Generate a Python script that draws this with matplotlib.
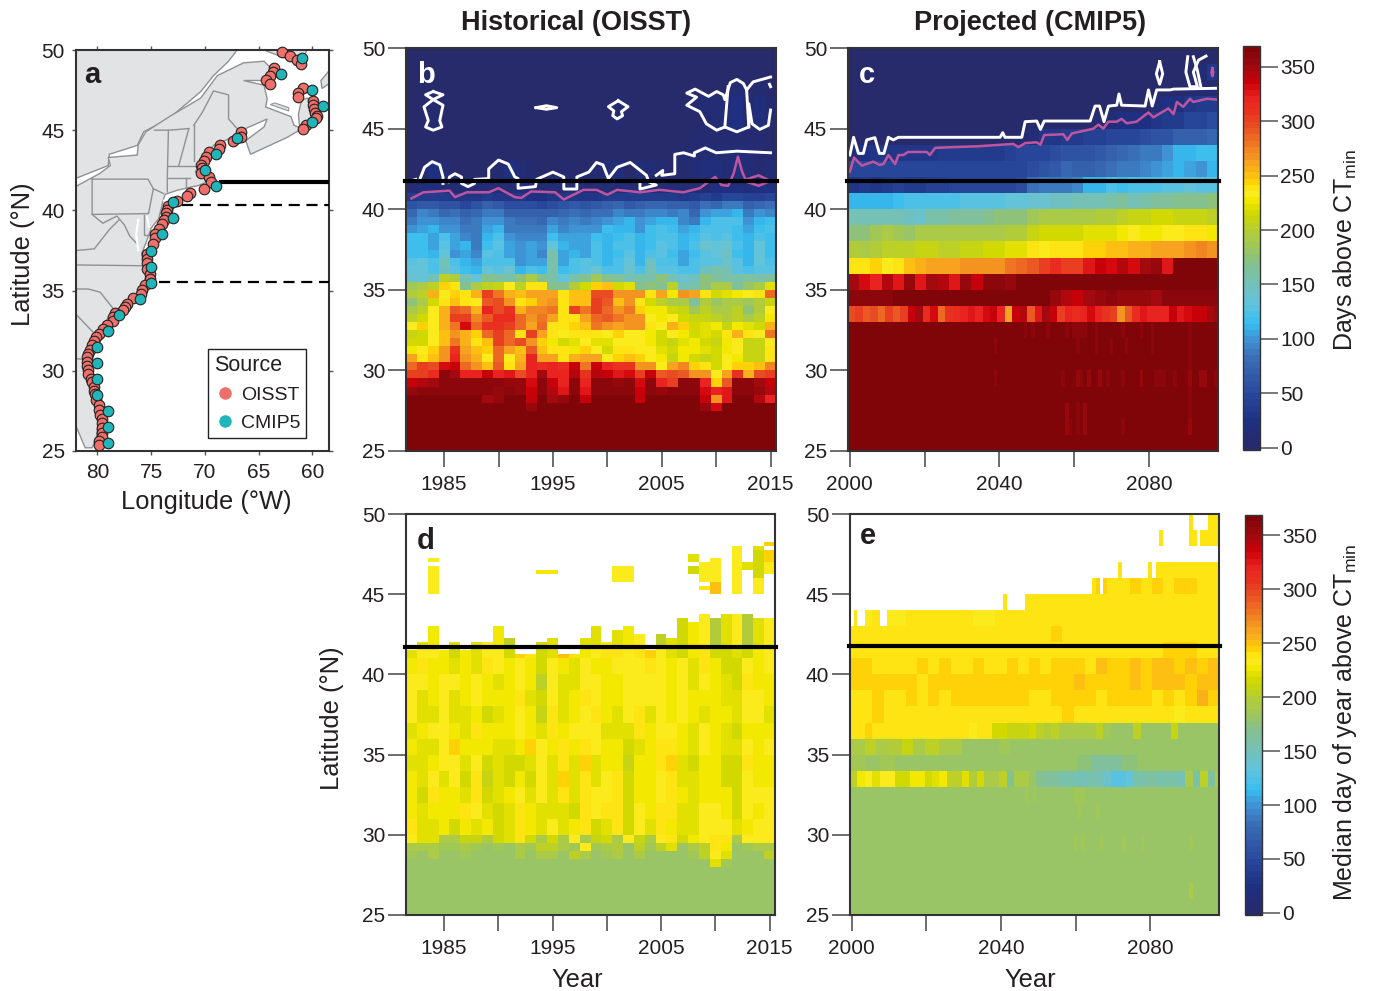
import numpy as np
import matplotlib
matplotlib.use('Agg')
import matplotlib.pyplot as plt
from matplotlib.colors import LinearSegmentedColormap, Normalize
from matplotlib.lines import Line2D

plt.rcParams['font.family'] = ['Liberation Sans', 'DejaVu Sans']
plt.rcParams['mathtext.default'] = 'regular'

# colour scale
cb_vals = [-2, 20, 50, 80, 100, 112, 130, 150, 170, 180, 200, 215, 228, 234, 238, 242, 250, 262, 278, 292, 310, 322, 338, 350, 369]
cb_cols = ['#272a6b', '#1e2f80', '#2a4b9e', '#3a6db5', '#3f96d6', '#35bdf0', '#5fc3df', '#74c1b8', '#86c08c', '#98c567',
           '#b5cd35', '#d0d800', '#f3e800', '#fcea1e', '#fce81c', '#ffdd00', '#fdc210', '#f8a51f', '#ef7d22', '#ea5a24', '#e8321f',
           '#e92420', '#cc0009', '#a50a10', '#7f0509']

# ---- panel a
oisst_lon = [62.85, 62.1, 61.4, 61.1, 63.6, 63.65, 63.9, 64.35, 63.9, 60.9, 61.35, 61.35, 59.9, 59.9, 59.85, 59.75, 59.6, 59.7,
             60.6, 60.9, 66.6, 66.6, 67.35, 68.6, 68.7, 69.65, 69.9, 70.1, 70.35, 70.25, 70.4, 69.6, 69.4, 70.1, 71.35, 71.65,
             72.6, 73.4, 73.5, 73.6, 73.6, 73.85, 74, 74.3, 74.6, 74.6, 74.8, 75.4, 75.4, 75.4, 75.4, 75.1, 75.15, 75.6, 75.85,
             75.95, 76.65, 77.25, 77.4, 77.65, 78.35, 78.55, 78.6, 79.15, 79.45, 79.9, 80.1, 80.35, 80.5, 80.7, 80.85, 80.95,
             80.95, 80.95, 80.85, 80.85, 80.6, 80.5, 80.35, 80.35, 80.2, 80.1, 79.9, 79.9, 79.75, 79.6, 79.6, 79.6, 79.6, 79.6,
             79.9, 79.9]
oisst_lat = [49.85, 49.6, 49.35, 49.15, 48.9, 48.6, 48.35, 48.1, 47.9, 47.65, 47.35, 47.1, 46.85, 46.6, 46.35, 46.1, 45.9, 45.75,
             45.35, 45.1, 44.9, 44.6, 44.35, 44.1, 43.85, 43.65, 43.35, 43.1, 42.85, 42.65, 42.35, 42.1, 41.8, 41.35, 41.1, 40.9,
             40.6, 40.3, 40.05, 39.85, 39.6, 39.4, 39.15, 38.85, 38.55, 38.25, 37.9, 37.3, 37, 36.7, 36.35, 36.05, 35.7, 35.35,
             35.05, 34.8, 34.55, 34.15, 34, 33.8, 33.6, 33.35, 33.1, 32.85, 32.6, 32.3, 32.1, 31.85, 31.6, 31.3, 31.05, 30.85,
             30.55, 30.3, 30.05, 29.8, 29.5, 29.3, 29, 28.75, 28.55, 28.2, 27.85, 27.55, 27.25, 27, 26.75, 26.45, 26.15, 25.9,
             25.6, 25.35]
cmip_lon = [61, 62.95, 60, 59, 60, 67, 69, 70, 69, 73, 73, 74, 75, 75, 75, 76, 78, 79, 80, 80, 80, 80, 79, 79, 79]
cmip_lat = [49.5, 48.5, 47.5, 46.5, 45.5, 44.5, 43.5, 42.5, 41.5, 40.5, 39.5, 38.5, 37.5, 36.5, 35.5, 34.5, 33.5, 32.5, 31.5,
            30.5, 29.5, 28.5, 27.5, 26.5, 25.5]

land_north = [(82, 50), (67, 50), (67.8, 49.3), (69.2, 48.4), (70.4, 47.4), (73.4, 45.7), (75.7, 44.9), (76.3, 44.05), (78.9, 43.5),
              (79, 42.8), (82, 42)]
land_south = [(82, 41.5), (79.8, 42.3), (78.8, 42.8), (79, 43.3), (76.3, 43.45), (76.2, 44.1), (75.5, 44.9), (73.3, 45.85), (70.4, 47),
              (68.85, 48.4), (66.4, 49.2), (64.5, 49.3), (63.9, 48.9), (63.25, 48.4), (64.2, 48.1), (66.4, 48.1), (64.5, 47.8),
              (64.2, 46.95), (64.35, 46.45), (62, 45.85), (61.7, 45.3), (60.95, 45.1), (62.35, 44.55), (65.75, 43.5), (66.2, 44.35),
              (64.5, 45.2), (64.2, 45.7), (66.4, 45.05), (67.3, 44.6), (69.2, 44.05), (70.4, 42.9), (70.9, 42.4), (70.1, 42.05),
              (69.9, 41.75), (70.6, 41.55), (71.35, 41.45), (72.6, 41.25), (73.7, 41), (73.9, 40.6), (74, 40.3), (74.3, 39.5),
              (75, 38.9), (75.3, 38.3), (75.9, 37.3), (75.7, 36.7), (75.5, 36.2), (75.6, 35.3), (76.65, 34.6), (77.9, 33.9),
              (78.55, 33.8), (79.3, 33), (80.05, 32.2), (81, 31.1), (81.2, 30.4), (81, 29.8), (80.6, 28.9), (80.3, 27.9),
              (79.95, 26.9), (80.1, 25.8), (80.5, 25.2), (81.15, 25.2), (81.9, 26.4), (82, 26.5)]
cape_breton = [(61.2, 45.3), (61.3, 46), (61, 46.9), (60.4, 47), (60.2, 46.2), (59.9, 45.9), (60.8, 45.4)]
newfoundland = [(59.2, 48.1), (58.45, 48.7), (58.45, 47.9), (59.1, 47.6)]
north_shore = [(64.5, 50), (62.95, 49.6), (61.1, 49.15), (60.5, 50)]
pei = [(63.9, 46.6), (62.2, 46.2), (62.2, 46.4), (63.5, 46.7)]
long_island = [(73.9, 40.6), (72, 41), (71.9, 41.05), (73.4, 40.85)]
border_lines = [
    [(80.5, 41.95), (75.3, 41.95), (74.8, 41.35), (75.25, 39.8), (80.5, 39.75), (80.5, 41.95)],
    [(74.8, 41.35), (73.85, 41.05)],
    [(73.5, 41.15), (73.5, 42.05), (73.4, 45)],
    [(74.7, 45), (73.4, 45), (71.5, 45.1)],
    [(71.5, 45.1), (72.45, 42.75)],
    [(71.05, 45.3), (71.05, 43.1)],
    [(73.5, 42.05), (71.4, 42.05)],
    [(73.4, 42.75), (70.8, 42.75)],
    [(71.8, 42.05), (71.8, 41.4)],
    [(71.05, 45.3), (70.25, 46.1), (69.2, 47.45), (67.8, 47.2), (67.8, 45.7), (67, 45.1)],
    [(80.5, 39.75), (79.5, 39.2), (78.2, 39.65), (77.5, 39.1), (77, 38.4), (76.3, 37.9)],
    [(82, 37.5), (80.3, 37.6), (78.9, 38.8), (78, 39.4)],
    [(75.7, 39.7), (75.7, 38.45), (75.05, 38.45)],
    [(82, 36.6), (75.9, 36.55)],
    [(82, 35.1), (80.85, 35.1), (79.75, 34.9), (78.5, 33.85)],
    [(81.9, 33.45), (80.4, 32.4)],
    [(81.85, 30.75), (81.1, 30.7)],
]
bay_lines = [
    [(76.2, 39.4), (76.4, 38.5), (76.2, 37.5)],
    [(75.4, 39.6), (75.2, 39)],
]

# ---- panel b (OISST, days above CTmin), south to north
hist_years = list(range(1982, 2016))
b_edges = [25, 27.5, 28, 28.5, 29, 29.5, 30, 30.5, 31, 31.5, 32, 32.5, 33, 33.5, 34, 34.5, 35, 35.5, 36, 36.5, 37, 37.5, 38, 38.5, 39,
           39.5, 40, 40.5, 41, 41.5, 42, 43, 44, 45, 46, 47, 48, 50]
b_rows = [
    [365] * 34,
    [365, 365, 365, 365, 365, 365, 365, 365, 365, 365, 365, 352, 365, 365, 365, 365, 365, 365, 365, 365, 365, 365, 365, 365, 365, 365, 365, 355, 330, 365, 365, 365, 365, 365],
    [365, 365, 365, 365, 365, 365, 365, 350, 355, 365, 365, 340, 365, 350, 355, 365, 335, 365, 365, 365, 365, 340, 365, 365, 365, 365, 365, 338, 270, 325, 365, 365, 345, 320],
    [355, 360, 360, 362, 362, 362, 362, 358, 355, 360, 355, 335, 360, 345, 325, 362, 325, 360, 360, 358, 362, 340, 358, 355, 360, 360, 360, 330, 322, 325, 362, 360, 355, 345],
    [335, 345, 350, 362, 360, 360, 360, 358, 358, 355, 352, 330, 360, 335, 322, 362, 318, 360, 360, 352, 360, 330, 358, 322, 300, 358, 358, 322, 245, 290, 362, 358, 348, 335],
    [300, 305, 312, 362, 350, 322, 320, 340, 320, 325, 295, 320, 350, 322, 320, 345, 310, 345, 340, 325, 330, 300, 335, 290, 295, 290, 265, 265, 235, 262, 310, 258, 295, 305],
    [285, 305, 295, 330, 335, 285, 270, 248, 290, 238, 262, 320, 315, 318, 315, 335, 280, 335, 320, 310, 310, 270, 270, 235, 262, 275, 245, 240, 215, 235, 245, 245, 248, 275],
    [262, 240, 250, 270, 320, 265, 255, 235, 285, 235, 255, 320, 262, 262, 240, 258, 262, 262, 230, 245, 250, 245, 232, 225, 210, 225, 215, 210, 215, 235, 225, 208, 212, 240],
    [225, 235, 245, 265, 310, 260, 250, 245, 285, 262, 250, 290, 252, 240, 238, 225, 245, 232, 215, 238, 238, 232, 230, 222, 215, 225, 225, 220, 218, 225, 232, 208, 210, 238],
    [215, 218, 235, 250, 280, 255, 240, 250, 300, 285, 295, 270, 245, 225, 215, 222, 235, 222, 222, 235, 235, 230, 228, 215, 210, 220, 225, 215, 212, 225, 230, 208, 208, 235],
    [210, 215, 230, 250, 268, 258, 242, 285, 305, 285, 238, 300, 262, 240, 235, 238, 240, 238, 235, 242, 235, 235, 228, 215, 235, 225, 215, 220, 218, 240, 255, 240, 235, 278],
    [235, 245, 235, 255, 280, 330, 285, 310, 310, 305, 285, 262, 285, 238, 240, 245, 250, 278, 270, 260, 265, 265, 240, 232, 255, 245, 215, 222, 225, 212, 225, 220, 215, 255],
    [205, 218, 230, 255, 300, 305, 275, 290, 315, 315, 285, 270, 280, 262, 238, 240, 262, 285, 290, 280, 270, 270, 230, 225, 230, 215, 208, 210, 205, 200, 205, 195, 205, 225],
    [195, 205, 235, 255, 290, 285, 255, 320, 295, 310, 255, 275, 275, 280, 240, 305, 280, 305, 285, 270, 280, 245, 225, 225, 215, 210, 185, 205, 195, 190, 205, 175, 200, 235],
    [175, 195, 215, 240, 250, 238, 235, 290, 295, 270, 240, 242, 262, 268, 240, 250, 248, 300, 290, 250, 270, 240, 215, 205, 195, 195, 165, 200, 180, 190, 195, 185, 200, 210],
    [200, 205, 255, 230, 245, 240, 258, 305, 280, 258, 248, 262, 262, 262, 240, 250, 248, 295, 295, 270, 270, 265, 240, 262, 225, 270, 260, 238, 215, 222, 228, 232, 240, 285],
    [185, 190, 205, 242, 238, 170, 190, 205, 212, 235, 205, 240, 240, 170, 170, 200, 215, 245, 250, 215, 220, 170, 175, 170, 205, 150, 160, 175, 190, 190, 165, 180, 195, 220],
    [140, 135, 150, 205, 200, 150, 135, 170, 165, 160, 175, 190, 170, 160, 135, 160, 170, 185, 170, 165, 150, 155, 160, 175, 150, 140, 145, 175, 165, 160, 160, 165, 160, 165],
    [135, 135, 125, 145, 130, 115, 110, 135, 130, 140, 110, 120, 115, 160, 115, 120, 130, 140, 120, 125, 140, 125, 150, 130, 130, 125, 125, 145, 155, 150, 130, 125, 130, 130],
    [130, 135, 125, 150, 125, 110, 108, 125, 125, 125, 100, 105, 108, 160, 105, 120, 130, 125, 110, 125, 135, 110, 145, 125, 125, 108, 125, 130, 130, 140, 130, 110, 135, 125],
    [118, 118, 110, 132, 98, 105, 92, 126, 122, 108, 98, 103, 92, 155, 108, 110, 108, 122, 110, 118, 126, 110, 122, 126, 118, 108, 118, 126, 135, 145, 118, 112, 135, 118],
    [118, 116, 108, 126, 108, 113, 88, 118, 126, 108, 98, 103, 98, 133, 113, 108, 108, 123, 113, 123, 123, 113, 118, 128, 120, 113, 120, 138, 133, 138, 120, 113, 133, 118],
    [115, 115, 105, 120, 105, 95, 90, 110, 122, 100, 95, 95, 95, 115, 105, 105, 105, 118, 110, 115, 120, 110, 118, 125, 120, 110, 118, 128, 122, 128, 118, 110, 120, 115],
    [100, 105, 110, 100, 100, 85, 90, 105, 110, 90, 85, 90, 85, 105, 95, 100, 102, 100, 115, 110, 110, 102, 115, 120, 115, 105, 110, 122, 120, 125, 115, 105, 115, 120],
    [90, 100, 100, 95, 95, 80, 85, 100, 100, 85, 80, 80, 75, 95, 90, 95, 90, 95, 100, 105, 110, 100, 105, 110, 110, 95, 90, 110, 120, 122, 122, 102, 110, 115],
    [78, 93, 88, 78, 83, 73, 78, 88, 88, 73, 73, 68, 68, 73, 78, 80, 78, 83, 83, 93, 88, 86, 93, 93, 88, 93, 78, 98, 103, 108, 113, 88, 98, 93],
    [60, 65, 65, 60, 60, 50, 60, 70, 65, 55, 55, 55, 50, 55, 60, 65, 60, 65, 70, 75, 65, 70, 75, 75, 70, 70, 65, 80, 75, 85, 90, 70, 75, 80],
    [35, 35, 35, 35, 30, 30, 30, 35, 30, 30, 30, 25, 25, 30, 30, 30, 30, 30, 35, 35, 35, 35, 35, 35, 35, 30, 35, 40, 35, 50, 50, 40, 40, 45],
    [15, 18, 18, 15, 15, 15, 15, 15, 15, 12, 12, 12, 12, 12, 12, 15, 15, 15, 15, 15, 18, 15, 15, 15, 15, 15, 15, 15, 25, 25, 25, 20, 25, 25],
    [8, 8, 22, 12, 6, 10, 6, 8, 12, 18, 14, 6, 6, 10, 12, 8, 8, 8, 10, 16, 8, 18, 14, 8, 8, 10, 8, 12, 15, 10, 14, 10, 12, 12],
    [1, 2, 22, 14, 2, 2, 2, 2, 8, 22, 14, 4, 2, 3, 4, 2, 2, 5, 10, 18, 3, 16, 12, 4, 2, 6, 10, 16, 16, 14, 16, 12, 8, 14],
    [1, 1, 2, 2, 1, 1, 1, 1, 2, 2, 2, 1, 1, 1, 1, 1, 1, 1, 1, 2, 1, 2, 1, 1, 2, 5, 8, 12, 15, 12, 14, 12, 8, 6],
    [1, 1, 1, 1, 1, 1, 1, 1, 1, 1, 1, 1, 1, 1, 1, 1, 1, 1, 1, 1, 1, 1, 1, 1, 1, 2, 4, 8, 8, 5, 4, 4, 4, 3],
    [1, 1, 4, 1, 1, 1, 1, 1, 1, 1, 1, 1, 1, 1, 1, 1, 1, 1, 1, 6, 1, 1, 1, 1, 1, 1, 3, 6, 12, 16, 25, 3, 20, 8],
    [1, 1, 4, 1, 1, 1, 1, 1, 1, 1, 1, 1, 3, 1, 1, 1, 1, 1, 1, 8, 1, 1, 1, 1, 1, 1, 8, 14, 14, 14, 25, 4, 20, 5],
    [1, 1, 1, 1, 1, 1, 1, 1, 1, 1, 1, 1, 1, 1, 1, 1, 1, 1, 1, 1, 1, 1, 1, 1, 1, 1, 2, 1, 1, 2, 14, 2, 8, 2],
    [1] * 34,
]
b_white = [
    [(1981.9, 41.75), (1982.4, 41.85)],
    [(1982.8, 41.9), (1983.2, 42.6), (1983.9, 42.95), (1984.6, 42.75), (1984.9, 42), (1984.9, 41.6)],
    [(1985.4, 41.7), (1985.5, 42), (1986, 42.2), (1986.6, 42), (1986.6, 41.6), (1987.2, 41.4), (1987.8, 41.6), (1987.8, 41.85), (1989.1, 41.9),
     (1989.1, 42.5), (1990, 43.05), (1990.9, 42.8), (1991.5, 42), (1991.8, 41.9), (1991.8, 41.3), (1993.4, 41.4), (1993.5, 41.85), (1995, 42.3),
     (1996, 42), (1996, 41.25), (1997.2, 41.25), (1997.2, 42), (1998.3, 42.3), (1999, 42.9), (1999.6, 42.75), (2000.1, 41.9), (2000.9, 42.6),
     (2002.1, 42.9), (2003.6, 42.1), (2003.8, 41.7), (2004.5, 41.5), (2003, 41.25), (2003, 41.6)],
    [(2004.5, 42.1), (2005.1, 42.4), (2005, 42.1), (2006.2, 42.2), (2006.2, 43.4), (2007, 43.5), (2008, 43.3), (2008, 43.5), (2009, 43.8),
     (2010, 43.5), (2011.9, 43.6), (2015, 43.5)],
    [(1984, 47.3), (1984.9, 47.1), (1984, 46.8), (1984.9, 46.45), (1984.6, 45.5), (1984.8, 45.1), (1984, 44.9), (1983.3, 45.1), (1983.55, 45.5),
     (1983.15, 46.35), (1984, 46.8), (1983.3, 47.1), (1984, 47.3)],
    [(1993.45, 46.3), (1994.4, 46.42), (1995.35, 46.3), (1994.4, 46.2), (1993.45, 46.3)],
    [(2001, 46.73), (2001.9, 46.36), (2001.3, 46.05), (2001.4, 45.8), (2000.9, 45.6), (2000.5, 45.8), (2000.6, 46.1), (2000.1, 46.36), (2001, 46.73)],
    [(2015, 48.2), (2013.4, 47.9), (2012.8, 47.4), (2012.5, 47.8), (2011.9, 48.05), (2011.3, 47.85), (2010.8, 46.8), (2010.65, 47.1), (2010.05, 47.3),
     (2009.3, 47), (2008.07, 47.45), (2007.3, 47.2), (2008.2, 46.95), (2007.3, 46.45), (2008.5, 46.05), (2009.1, 45.3), (2010.05, 44.9),
     (2010.8, 45.1), (2011.9, 44.8), (2013, 45.1), (2013, 46.55), (2013.3, 45.3), (2014, 44.95), (2014.8, 45.2), (2015, 46.15)],
    [(2011.1, 47.6), (2010.8, 45.1)],
    [(2012.8, 47.4), (2013, 45.1)],
    [(2014.9, 47.75), (2015, 47.6)],
]
b_pink = [
    [(1982, 40.67), (1983.1, 41.05), (1985.5, 41.15), (1986, 40.75), (1987.1, 41.05), (1989.1, 41.05), (1990, 41.3), (1991.5, 40.75), (1992.1, 40.7),
     (1993, 41.1), (1995.2, 41.05), (1996, 40.6), (1997.8, 41.2), (1999, 41.2), (2000, 40.9), (2000.9, 41.2), (2003, 41.05), (2004.8, 41.2),
     (2007, 41.05), (2008.5, 41.3), (2009.9, 42), (2010.5, 41.5), (2011.1, 41.45), (2011.6, 42.2), (2012, 43.25), (2012.4, 42.3), (2012.8, 41.7),
     (2013.9, 41.45), (2015, 41.75), (2013.9, 42.1), (2012.8, 41.85)],
]

# ---- panel d (OISST, median day), body rows south to north
d_edges = [25, 28, 28.5, 29, 29.5, 30, 31, 32, 33, 34, 35, 36, 37, 38, 39, 40, 41, 41.75]
d_rows = [
    [180] * 34,
    [180, 180, 180, 180, 180, 180, 180, 180, 180, 180, 180, 180, 180, 180, 180, 180, 180, 180, 180, 180, 180, 180, 180, 180, 180, 180, 180, 180, 222, 186, 180, 180, 180, 180],
    [185, 180, 190, 182, 182, 185, 182, 182, 182, 182, 195, 180, 195, 195, 180, 205, 190, 182, 185, 195, 182, 190, 182, 182, 182, 182, 188, 205, 232, 222, 182, 182, 182, 205],
    [195, 195, 195, 185, 185, 190, 188, 182, 185, 182, 190, 185, 205, 205, 190, 185, 232, 185, 195, 200, 182, 205, 185, 205, 220, 182, 190, 205, 238, 228, 182, 185, 190, 195],
    [235, 222, 220, 190, 190, 212, 208, 200, 215, 220, 238, 215, 190, 215, 190, 235, 195, 208, 215, 190, 230, 210, 190, 235, 240, 215, 225, 232, 238, 240, 195, 230, 232, 232],
    [236, 224, 222, 226, 215, 228, 222, 226, 218, 222, 238, 226, 224, 232, 220, 228, 236, 215, 222, 238, 218, 232, 222, 236, 228, 220, 222, 230, 232, 232, 220, 228, 232, 230],
    [228, 220, 228, 228, 225, 236, 232, 224, 216, 220, 236, 228, 222, 222, 224, 218, 238, 230, 236, 240, 216, 230, 228, 238, 238, 222, 224, 230, 232, 226, 218, 232, 226, 232],
    [226, 218, 240, 226, 226, 224, 240, 214, 220, 228, 232, 222, 232, 220, 240, 222, 240, 232, 232, 240, 216, 226, 226, 232, 240, 226, 222, 228, 228, 228, 216, 232, 232, 232],
    [226, 222, 232, 224, 232, 218, 240, 210, 222, 214, 228, 218, 230, 222, 242, 222, 236, 220, 232, 236, 216, 228, 228, 232, 240, 224, 222, 228, 226, 218, 218, 232, 226, 228],
    [224, 222, 228, 230, 234, 222, 232, 216, 224, 218, 216, 222, 232, 220, 238, 220, 242, 222, 226, 228, 208, 226, 226, 236, 242, 222, 218, 226, 228, 216, 218, 236, 226, 226],
    [226, 220, 224, 232, 242, 226, 228, 226, 222, 222, 228, 244, 234, 228, 238, 226, 238, 230, 228, 226, 218, 224, 226, 236, 240, 226, 222, 232, 228, 222, 220, 230, 226, 230],
    [224, 226, 232, 232, 226, 224, 236, 226, 226, 226, 232, 228, 222, 236, 228, 230, 232, 232, 224, 224, 220, 238, 226, 232, 230, 226, 224, 230, 228, 222, 218, 226, 226, 226],
    [232, 224, 222, 234, 224, 224, 226, 218, 224, 226, 232, 226, 212, 236, 222, 228, 232, 236, 226, 222, 232, 238, 222, 232, 226, 232, 226, 222, 226, 226, 220, 232, 232, 222],
    [232, 224, 228, 232, 224, 226, 234, 226, 226, 226, 236, 224, 214, 232, 222, 226, 236, 234, 226, 226, 230, 232, 232, 230, 226, 232, 226, 226, 226, 222, 222, 232, 232, 226],
    [230, 232, 228, 232, 232, 226, 232, 226, 224, 226, 232, 226, 202, 234, 222, 224, 232, 230, 226, 228, 230, 232, 232, 234, 228, 234, 222, 232, 226, 220, 218, 236, 226, 226],
    [226, 236, 226, 228, 222, 228, 224, 236, 232, 226, 232, 228, 216, 234, 228, 224, 232, 226, 226, 232, 230, 232, 236, 232, 226, 234, 224, 236, 228, 218, 218, 232, 226, 232],
    [220, 234, 232, 226, 218, 228, 222, 234, 230, 218, 244, 240, 216, 224, 248, 226, 226, 230, 240, 236, 232, 236, 244, 234, 224, 218, 226, 236, 218, 218, 222, 218, 226, 234],
]
# top of the coloured column just north of the black line, and its value
d_cap_top = [41.4, 41.9, 42.95, 41.4, 42.1, 41.4, 41.9, 41.9, 42.95, 42.2, 41.2, 41.2, 41.9, 42.2, 41.2, 41.15, 42.2, 42.95, 41.9, 42.7, 42.9,
             42.45, 41.45, 42.45, 42.2, 43.45, 43.2, 43.7, 43.45, 43.7, 43.7, 43.7, 43.45, 43.45]
d_cap_val = [220, 222, 228, 220, 220, 220, 222, 232, 228, 205, 240, 240, 218, 220, 245, 226, 222, 220, 240, 222, 228, 232, 240, 205, 222, 218,
             226, 235, 198, 222, 232, 200, 222, 232]
# isolated cells further north: year, south lat, north lat, value
d_cell_year = [1984, 1984, 1994, 1995, 2001, 2002, 2008, 2008, 2009, 2009, 2010, 2010, 2010, 2012, 2012, 2012, 2013, 2014, 2014, 2014, 2015, 2015, 2015]
d_cell_s = [46.9, 44.95, 46.2, 46.2, 45.7, 45.7, 47, 46.2, 45.7, 45.2, 45.7, 45, 47, 47.7, 47, 45, 46.5, 47.7, 46, 45, 47.95, 47, 46.2]
d_cell_n = [47.2, 46.75, 46.5, 46.5, 46.75, 46.75, 47.5, 46.75, 47, 45.5, 47.2, 45.7, 47.2, 48, 47.7, 47, 47, 48, 47.7, 46, 48.25, 47.75, 47]
d_cell_val = [232, 232, 225, 225, 235, 235, 220, 218, 235, 238, 235, 250, 235, 235, 230, 235, 222, 222, 218, 230, 242, 245, 235]

# ---- panels c and e (CMIP5, one row per degree, south to north). Rows may hold fewer values than years.
proj_years = list(range(2000, 2099))
c_rows = [
    [365], [365], [365], [365], [365], [365], [365], [365],
    [295, 300, 290, 295, 285, 300, 292, 300, 335, 350, 315, 330, 285, 310, 315, 320, 325, 320, 330, 335, 320, 262, 340, 345, 290, 325, 350, 340, 300, 320,
     315, 320, 330, 318, 310, 302, 270, 290, 315, 325, 318, 322, 320, 335, 325, 330, 335, 340, 350, 355],
    [360, 358, 362, 358, 365, 365, 365, 365, 365, 365, 365, 365, 365, 365, 365, 365, 365, 365, 355, 345, 335, 350, 355, 358, 355, 352, 355, 350, 358, 360, 362, 358, 362],
    [350, 330, 322, 345, 325, 352, 325, 350, 345, 325, 352, 340, 360, 358, 355, 365, 365, 365, 365, 365, 365, 365, 365, 365, 365, 365, 365, 365, 365, 365, 365, 365, 365],
    [240, 240, 242, 235, 240, 250, 258, 262, 262, 262, 265, 270, 265, 270, 280, 285, 290, 300, 315, 305, 300, 325, 335, 330, 345, 330, 350, 355, 325, 365, 365, 365, 365],
    [200, 195, 200, 205, 205, 205, 210, 212, 205, 205, 210, 210, 215, 215, 220, 222, 238, 232, 238, 240, 240, 245, 245, 250, 252, 258, 258, 260, 262, 262, 270, 275, 265],
    [175, 175, 185, 190, 185, 180, 190, 190, 195, 190, 190, 195, 190, 195, 200, 200, 210, 215, 215, 215, 215, 222, 222, 222, 228, 230, 225, 225, 232, 235, 240, 240, 228],
    [150, 150, 150, 150, 150, 145, 140, 160, 160, 165, 165, 165, 170, 175, 175, 175, 185, 190, 190, 190, 195, 195, 200, 200, 205, 210, 210, 215, 215, 210, 210, 210, 205],
    [112, 112, 112, 112, 118, 125, 125, 125, 125, 125, 128, 128, 130, 130, 135, 135, 140, 140, 145, 145, 150, 150, 150, 160, 165, 150, 160, 165, 165, 170, 170, 170, 175],
    [30, 35, 30, 35, 40, 35, 35, 40, 40, 45, 45, 45, 45, 45, 50, 55, 80, 85, 85, 90, 95, 110, 112, 120, 115, 120, 125, 125, 130, 128, 135, 130, 130],
    [45, 45, 45, 50, 50, 50, 50, 50, 50, 50, 50, 50, 50, 50, 50, 50, 55, 60, 65, 75, 70, 70, 75, 80, 85, 90, 95, 100, 105, 112, 105, 100, 110],
    [15, 22, 30, 30, 32, 32, 32, 32, 35, 35, 35, 36, 36, 38, 40, 45, 50, 50, 55, 58, 60, 60, 65, 70, 75, 80, 85, 90, 100, 112, 112, 115, 115],
    [1, 1, 1, 1, 1, 1, 1, 1, 1, 1, 1, 1, 1, 1, 1, 8, 10, 30, 30, 35, 35, 40, 42, 45, 45, 50, 55, 60, 60, 70, 70, 72, 75],
    [1, 1, 1, 1, 1, 1, 1, 1, 1, 1, 1, 1, 1, 1, 1, 1, 1, 1, 1, 1, 1, 1, 15, 15, 25, 25, 25, 28, 35, 35, 45, 48, 55],
    [1, 1, 1, 1, 1, 1, 1, 1, 1, 1, 1, 1, 1, 1, 1, 1, 1, 1, 1, 1, 1, 1, 1, 1, 1, 1, 1, 15, 25, 25, 30, 35, 35],
    [1, 1, 1, 1, 1, 1, 1, 1, 1, 1, 1, 1, 1, 1, 1, 1, 1, 1, 1, 1, 1, 1, 1, 1, 1, 1, 1, 1, 1, 1, 5, 5, 5],
    [1, 1, 1, 1, 1, 1, 1, 1, 1, 1, 1, 1, 1, 1, 1, 1, 1, 1, 1, 1, 1, 1, 1, 1, 1, 1, 1, 1, 1, 1, 1, 10, 30],
    [1],
]
c_dark_year = [2047, 2049, 2053, 2058, 2060, 2061, 2062, 2063, 2066, 2073, 2078, 2081, 2091, 2039, 2061, 2066, 2070, 2074, 2081, 2091, 2091, 2039, 2057, 2061, 2062,
               2064, 2067, 2069, 2073, 2078, 2082, 2083, 2084, 2087, 2091, 2094, 2095, 2098, 2091, 2058, 2061, 2063, 2091, 2058, 2059, 2061, 2063, 2073, 2091]
c_dark_lat = [32, 32, 32, 32, 32, 32, 32, 32, 32, 32, 32, 32, 32, 31, 31, 31, 31, 31, 31, 31, 30, 29, 29, 29, 29, 29, 29, 29, 29, 29, 29, 29, 29, 29, 29, 29, 29, 29, 28,
               27, 27, 27, 27, 26, 26, 26, 26, 26, 26]
c_dark_val = [362, 362, 362, 358, 360, 358, 358, 358, 360, 360, 360, 358, 358, 358, 358, 358, 360, 360, 358, 362, 362, 358, 362, 356, 358, 356, 352, 358, 358, 356, 358, 358,
              358, 360, 352, 356, 356, 358, 362, 356, 360, 356, 362, 356, 358, 360, 356, 358, 356]
c_white = [
    [(2000, 43.36), (2001, 44.46), (2002.3, 43.46), (2003.6, 43.46), (2004.5, 44.3), (2006.7, 44.44), (2007.9, 43.46), (2009.1, 43.46), (2010.3, 44.46), (2011.6, 44.3),
     (2013, 44.46), (2040.2, 44.46), (2040.9, 44.75), (2041.5, 44.46), (2046, 44.46), (2046.9, 45.43), (2050, 45.47), (2051, 44.95), (2052, 45.47), (2064.3, 45.47),
     (2065.6, 46.4), (2066.8, 46.4), (2068, 45.43), (2069.2, 46.4), (2071.4, 46.45), (2072, 47.15), (2072.7, 46.45), (2079, 46.4), (2079.9, 47.4), (2080.9, 46.4),
     (2082.1, 47.4), (2085.7, 47.4), (2086.6, 47.45), (2098, 47.5)],
    [(2082.9, 49.15), (2083.7, 48.4), (2082.9, 47.75), (2082, 48.4), (2082.9, 49.15)],
    [(2090.4, 49.46), (2089.9, 48.5), (2091, 47.6), (2093, 47.6), (2091.9, 48.5), (2093.3, 49.25), (2095.3, 49.5)],
    [(2091.9, 49.46), (2093, 48.6), (2093.9, 47.6)],
]
c_pink = [
    [(2000, 42.33), (2001.1, 43.2), (2003.2, 42.7), (2006.3, 42.95), (2007.9, 42.75), (2009, 42.8), (2010.3, 43.36), (2012.1, 42.8), (2013, 43.36), (2014.3, 43.36),
     (2015.6, 43.55), (2020.6, 43.55), (2021.4, 43.36), (2022.8, 43.8), (2027.7, 43.85), (2034, 43.9), (2043.7, 44.05), (2045.1, 43.85), (2046.9, 44.1), (2050, 44.15),
     (2051, 44), (2052, 44.6), (2057.1, 44.65), (2058.2, 44.3), (2059.4, 44.7), (2065.2, 45), (2066.5, 45.25), (2067.8, 45), (2069.2, 45.43), (2071.4, 45.43),
     (2072.7, 45.6), (2074.1, 45.33), (2076.7, 45.43), (2079.9, 46), (2081.2, 45.7), (2085.2, 46.25), (2086.6, 45.9), (2087.5, 46.65), (2089.2, 46.35), (2091, 46.85),
     (2091.9, 46.65), (2095.5, 46.85), (2098.2, 46.8)],
    [(2097, 48.75), (2097.25, 48.5), (2097, 48.25), (2096.75, 48.5), (2097, 48.75)],
]

e_rows = [
    [180], [180], [180], [180], [180], [180], [180], [180],
    [205, 225, 230, 222, 232, 232, 218, 218, 225, 225, 218, 222, 225, 205, 205, 222, 200, 215, 195, 195, 205, 170, 190, 190, 180, 170, 165, 165, 160, 155,
     152, 152, 160, 150, 140, 130, 128, 135, 155, 160, 165, 160, 155, 160, 150, 190, 160, 205, 165, 195],
    [185, 180, 185, 180, 180, 180, 180, 180, 180, 180, 180, 180, 180, 180, 180, 180, 172, 166, 166, 172, 180, 180, 180, 180, 180, 180],
    [195, 205, 190, 200, 210, 195, 205, 190, 195, 180, 180, 180, 185, 180, 180, 180, 180, 180, 180, 180, 180, 180, 180, 180, 180, 180, 180, 180, 180, 180],
    [240, 236, 242, 236, 238, 236, 236, 240, 236, 236, 236, 238, 236, 236, 240, 236, 232, 236, 236, 218, 215, 212, 210, 208, 218, 205, 200, 205, 195, 195,
     190, 195, 190, 205, 185, 182, 182, 182, 205, 182, 182, 182, 182, 210, 182, 182, 182, 182, 182, 182],
    [240, 236, 242, 236, 236, 236, 236, 236, 240, 236, 236, 236, 236, 240, 236, 236, 236, 236, 236, 242, 236, 236, 236, 236, 236, 240, 236, 240, 236, 232, 240, 236, 236],
    [240, 236, 242, 236, 236, 242, 240, 242, 236, 242, 242, 242, 242, 242, 242, 242, 240, 240, 242, 242, 242, 242, 240, 242, 242, 246, 244, 240, 246, 240, 244, 255, 246],
    [244, 242, 242, 242, 242, 242, 238, 242, 242, 242, 242, 242, 242, 242, 242, 242, 246, 242, 246, 242, 248, 244, 246, 242, 246, 248, 246, 248, 250, 248, 246, 250, 248],
    [244, 242, 238, 236, 240, 236, 242, 236, 242, 240, 236, 242, 240, 240, 242, 236, 242, 240, 244, 244, 246, 240, 248, 242, 246, 248, 246, 248, 248, 246, 250, 246, 250],
    [238, 240, 236, 238, 236, 236, 236, 236, 236, 238, 236, 236, 236, 236, 236, 236, 236, 240, 240, 240, 240, 238, 238, 240, 240, 238, 240, 240, 242, 242, 244, 240, 240],
    [236, 240, 238, 236, 236, 236, 236, 236, 236, 236, 236, 236, 236, 236, 240, 236, 236, 236, 242, 236, 236, 240, 240, 240, 236, 240, 236, 240, 240, 236, 240, 240, 236],
    [236, 234, 236, 232, 234, 236, 236, 236, 236, 236, 236, 234, 234, 236, 236, 236, 236, 236, 236, 236, 236, 236, 236, 236, 236, 236, 236, 236, 236, 236, 236, 236, 236],
    [236, 236, 236, 236, 236, 236, 236, 236, 236, 236, 236, 236, 236, 236, 236, 236, 236, 240, 240, 240, 240, 236, 236, 240, 236, 236, 236, 240, 236, 240, 240, 240, 236],
    [236, 236, 236, 236, 236, 236, 236, 236, 236, 236, 236, 236, 236, 236, 236, 236, 236, 236, 236, 236, 236, 240, 242, 240, 240, 242, 240, 242, 240, 244, 242, 240, 240],
    [238, 238, 238, 238, 238, 238, 238, 238, 238, 238, 238, 238, 238, 238, 238, 238, 238, 238, 238, 238, 238, 238, 238, 238, 238, 238, 240, 238, 240, 240, 238, 240, 238],
    [236],
    [228, 240, 236, 228, 236, 240, 228, 236, 240, 236],
    [240, 230, 240, 230, 236, 242, 236, 238, 228, 236],
]
# spans of years that hold a value in the rows at the edge of the coloured area
e_span_lat = [43, 43, 43, 44, 44, 45, 45, 46, 46, 46, 48, 48, 48, 49, 49]
e_span_from = [2001, 2004, 2010, 2041, 2047, 2065, 2068, 2072, 2080, 2082, 2083, 2091, 2094, 2091, 2096]
e_span_to = [2001, 2007, 2098, 2041, 2098, 2066, 2098, 2072, 2080, 2098, 2083, 2092, 2098, 2091, 2098]
e_blank_lat = [47]
e_faint_year = [2047, 2049, 2060, 2061, 2062, 2061, 2066, 2060, 2062, 2067, 2073, 2078, 2091, 2091]
e_faint_lat = [32, 32, 32, 32, 32, 31, 31, 29, 29, 29, 29, 29, 29, 26]
e_faint_val = [184, 184, 186, 186, 186, 184, 184, 186, 186, 186, 186, 186, 186, 190]

map_ticks_lon = [80, 75, 70, 65, 60]
lat_ticks = [25, 30, 35, 40, 45, 50]
hist_ticks = [1985, 1990, 1995, 2000, 2005, 2010, 2015]
hist_labels = ['1985', '', '1995', '', '2005', '', '2015']
proj_ticks = [2000, 2020, 2040, 2060, 2080]
proj_labels = ['2000', '', '2040', '', '2080']
cb_ticks = [0, 50, 100, 150, 200, 250, 300, 350]

W, H = 1373, 991
TXT = '#231f20'


def px_axes(x0, y0, x1, y1):
    return fig.add_axes([x0 / W, 1 - y1 / H, (x1 - x0) / W, (y1 - y0) / H])


def stretch(row, n):
    # rows are typed with fewer cells than years, each cell covers an equal run of years
    row = np.array(row, dtype=float)
    return row[np.arange(n) * len(row) // n]


def style_heat(ax, xt, xl, xlim):
    ax.set_xlim(xlim)
    ax.set_ylim(25, 50)
    ax.set_xticks(xt)
    ax.set_xticklabels(xl)
    ax.set_yticks(lat_ticks)
    ax.tick_params(axis='x', length=11.5, width=1.1, color='#444444', labelsize=15, labelcolor=TXT, pad=5.5)
    ax.tick_params(axis='y', length=13, width=1.1, color='#444444', labelsize=15, labelcolor=TXT, pad=2)
    for s in ax.spines.values():
        s.set_linewidth(1.5)
        s.set_color('#333333')
        s.set_zorder(6)


def draw_lines(ax, lines, col, lw):
    for ln in lines:
        xs = [p[0] for p in ln]
        ys = [p[1] for p in ln]
        ax.plot(xs, ys, color=col, lw=lw, solid_joinstyle='round', zorder=3)


fig = plt.figure(figsize=(W / 100, H / 100), dpi=100)
cmap = LinearSegmentedColormap.from_list('ct', [((v + 2) / 371, c) for v, c in zip(cb_vals, cb_cols)], N=64)
norm = Normalize(-2, 369)

# panel a
axa = px_axes(76, 50, 329, 451)
grey = '#e2e3e5'
edge = '#8f9193'
for poly in [land_north, land_south, cape_breton, newfoundland, north_shore]:
    axa.fill([p[0] for p in poly], [p[1] for p in poly], fc=grey, ec=edge, lw=1.0, zorder=1)
axa.fill([p[0] for p in pei], [p[1] for p in pei], fc=grey, ec=edge, lw=0.8, zorder=1)
axa.fill([p[0] for p in long_island], [p[1] for p in long_island], fc=grey, ec='white', lw=1.0, zorder=1)
for ln in border_lines:
    axa.plot([p[0] for p in ln], [p[1] for p in ln], color=edge, lw=1.0, zorder=2)
for ln in bay_lines:
    axa.plot([p[0] for p in ln], [p[1] for p in ln], color='white', lw=1.6, zorder=2)
axa.plot([68.7, 58.45], [41.76, 41.76], color='black', lw=3, zorder=3, solid_capstyle='butt')
axa.plot([72.15, 58.45], [40.35, 40.35], color='black', lw=1.6, ls=(0, (5, 3)), zorder=3)
axa.plot([74.3, 58.45], [35.52, 35.52], color='black', lw=1.6, ls=(0, (5, 3)), zorder=3)
axa.scatter(oisst_lon, oisst_lat, s=58, c='#ef6f6a', edgecolors='#222222', linewidths=0.8, zorder=4, clip_on=False)
axa.scatter(cmip_lon, cmip_lat, s=58, c='#1fb5b9', edgecolors='#222222', linewidths=0.8, zorder=5, clip_on=False)
axa.set_xlim(82, 58.45)
axa.set_ylim(25, 50)
axa.set_xticks(map_ticks_lon)
axa.set_yticks(lat_ticks)
axa.tick_params(length=3, width=1, color='#555555', labelsize=15, labelcolor=TXT, pad=5, top=True, right=True)
axa.tick_params(axis='x', pad=6)
for s in axa.spines.values():
    s.set_linewidth(1.5)
    s.set_color('#333333')
hnd = [Line2D([], [], ls='', marker='o', ms=9, mfc='#ef6f6a', mec='none'),
       Line2D([], [], ls='', marker='o', ms=9, mfc='#1fb5b9', mec='none')]
leg = axa.legend(hnd, ['OISST', 'CMIP5'], title='Source', loc='lower left', bbox_to_anchor=(208 / W, 1 - 438 / H),
                 bbox_transform=fig.transFigure, fontsize=14, title_fontsize=15.5, fancybox=False, framealpha=1,
                 edgecolor='#222222', borderpad=0.3, labelspacing=0.55, handlelength=1.1, handletextpad=0.3, borderaxespad=0,
                 alignment='left')
leg.get_frame().set_linewidth(1.0)
leg.get_title().set_color(TXT)
for t in leg.get_texts():
    t.set_color(TXT)
axa.text(81.2, 48.45, 'a', fontsize=21, fontweight='bold', color=TXT, ha='left', va='center')

# panel b
axb = px_axes(406, 48, 776, 451)
b_mat = np.array(b_rows, dtype=float)
axb.pcolormesh(np.arange(1981.5, 2016), b_edges, b_mat, cmap=cmap, norm=norm, antialiased=False, linewidth=0)
draw_lines(axb, b_pink, '#c0559f', 1.8)
draw_lines(axb, b_white, 'white', 2.1)
style_heat(axb, hist_ticks, hist_labels, (1981.5, 2015.5))
axb.plot([1981.4, 2015.6], [41.72, 41.72], color='black', lw=3, clip_on=False, zorder=7)
axb.text(1982.5, 48.3, 'b', fontsize=21, fontweight='bold', color='white', va='center')

# panel c
axc = px_axes(848, 48, 1218, 451)
c_mat = np.array([stretch(r, 99) for r in c_rows])
for yr, la, v in zip(c_dark_year, c_dark_lat, c_dark_val):
    c_mat[la - 25, yr - 2000] = v
axc.pcolormesh(np.arange(1999.5, 2099), np.arange(25, 51), c_mat, cmap=cmap, norm=norm, antialiased=False, linewidth=0)
draw_lines(axc, c_pink, '#c0559f', 1.8)
draw_lines(axc, c_white, 'white', 2.1)
style_heat(axc, proj_ticks, proj_labels, (1999.5, 2098.5))
axc.plot([1999.2, 2098.8], [41.77, 41.77], color='black', lw=3, clip_on=False, zorder=7)
axc.text(2002.4, 48.3, 'c', fontsize=21, fontweight='bold', color='white', va='center')

# panel d, on a quarter degree grid
axd = px_axes(406, 514, 775, 915)
d_lat = np.arange(25, 50.25, 0.25)
d_mid = d_lat[:-1] + 0.125
d_mat = np.full((100, 34), np.nan)
for i in range(len(d_rows)):
    sel = (d_mid >= d_edges[i]) & (d_mid < d_edges[i + 1])
    d_mat[sel, :] = np.array(d_rows[i], dtype=float)
for j in range(34):
    sel = (d_mid >= 41.0) & (d_mid < d_cap_top[j])
    d_mat[sel & (d_mid >= 41.75), j] = d_cap_val[j]
    d_mat[(d_mid >= d_cap_top[j]) & (d_mid < 41.75), j] = np.nan
for yr, s, n, v in zip(d_cell_year, d_cell_s, d_cell_n, d_cell_val):
    d_mat[(d_mid >= s) & (d_mid < n), yr - 1982] = v
axd.pcolormesh(np.arange(1981.5, 2016), d_lat, d_mat, cmap=cmap, norm=norm, antialiased=False, linewidth=0)
style_heat(axd, hist_ticks, hist_labels, (1981.5, 2015.5))
axd.plot([1981.4, 2015.6], [41.73, 41.73], color='black', lw=3, clip_on=False, zorder=7)
axd.text(1982.5, 48.3, 'd', fontsize=21, fontweight='bold', color=TXT, va='center')

# panel e
axe = px_axes(850, 514, 1219, 915)
e_mat = np.array([stretch(r, 99) for r in e_rows])
for la in sorted(set(e_span_lat)):
    keep = np.zeros(99, dtype=bool)
    for sl, a, b in zip(e_span_lat, e_span_from, e_span_to):
        if sl == la:
            keep[a - 2000:b - 1999] = True
    e_mat[la - 25, ~keep] = np.nan
for la in e_blank_lat:
    e_mat[la - 25, :] = np.nan
for yr, la, v in zip(e_faint_year, e_faint_lat, e_faint_val):
    e_mat[la - 25, yr - 2000] = v
axe.pcolormesh(np.arange(1999.5, 2099), np.arange(25, 51), e_mat, cmap=cmap, norm=norm, antialiased=False, linewidth=0)
style_heat(axe, proj_ticks, proj_labels, (1999.5, 2098.5))
axe.plot([1999.2, 2098.8], [41.8, 41.8], color='black', lw=3, clip_on=False, zorder=7)
axe.text(2002.2, 48.6, 'e', fontsize=21, fontweight='bold', color=TXT, va='center')

# colour bars
mappable = plt.cm.ScalarMappable(norm=norm, cmap=cmap)
for box in [(1243, 46, 1260, 450), (1245, 515, 1262, 915)]:
    cax = px_axes(*box)
    cb = fig.colorbar(mappable, cax=cax, ticks=cb_ticks)
    cb.ax.tick_params(length=13, width=1.1, color='#555555', labelsize=15, labelcolor=TXT, pad=1.5)
    cb.outline.set_linewidth(1.0)
    cb.outline.set_edgecolor('#333333')

# text placed on the figure
fig.text(576 / W, 1 - 23 / H, 'Historical (OISST)', fontsize=19.5, fontweight='bold', color=TXT, ha='center', va='center')
fig.text(1030 / W, 1 - 23 / H, 'Projected (CMIP5)', fontsize=19.5, fontweight='bold', color=TXT, ha='center', va='center')
fig.text(206 / W, 1 - 502 / H, 'Longitude (°W)', fontsize=18.4, color=TXT, ha='center', va='center')
fig.text(23 / W, 1 - 254 / H, 'Latitude (°N)', fontsize=18.4, color=TXT, rotation=90, ha='center', va='center')
fig.text(332 / W, 1 - 718 / H, 'Latitude (°N)', fontsize=18.4, color=TXT, rotation=90, ha='center', va='center')
fig.text(577 / W, 1 - 980 / H, 'Year', fontsize=18.4, color=TXT, ha='center', va='center')
fig.text(1030 / W, 1 - 980 / H, 'Year', fontsize=18.4, color=TXT, ha='center', va='center')
fig.text(1345 / W, 1 - 250 / H, 'Days above CT$_{min}$', fontsize=18, color=TXT, rotation=90, ha='center', va='center')
fig.text(1345 / W, 1 - 722 / H, 'Median day of year above CT$_{min}$', fontsize=18, color=TXT, rotation=90, ha='center', va='center')

fig.savefig('out.png', dpi=100)
